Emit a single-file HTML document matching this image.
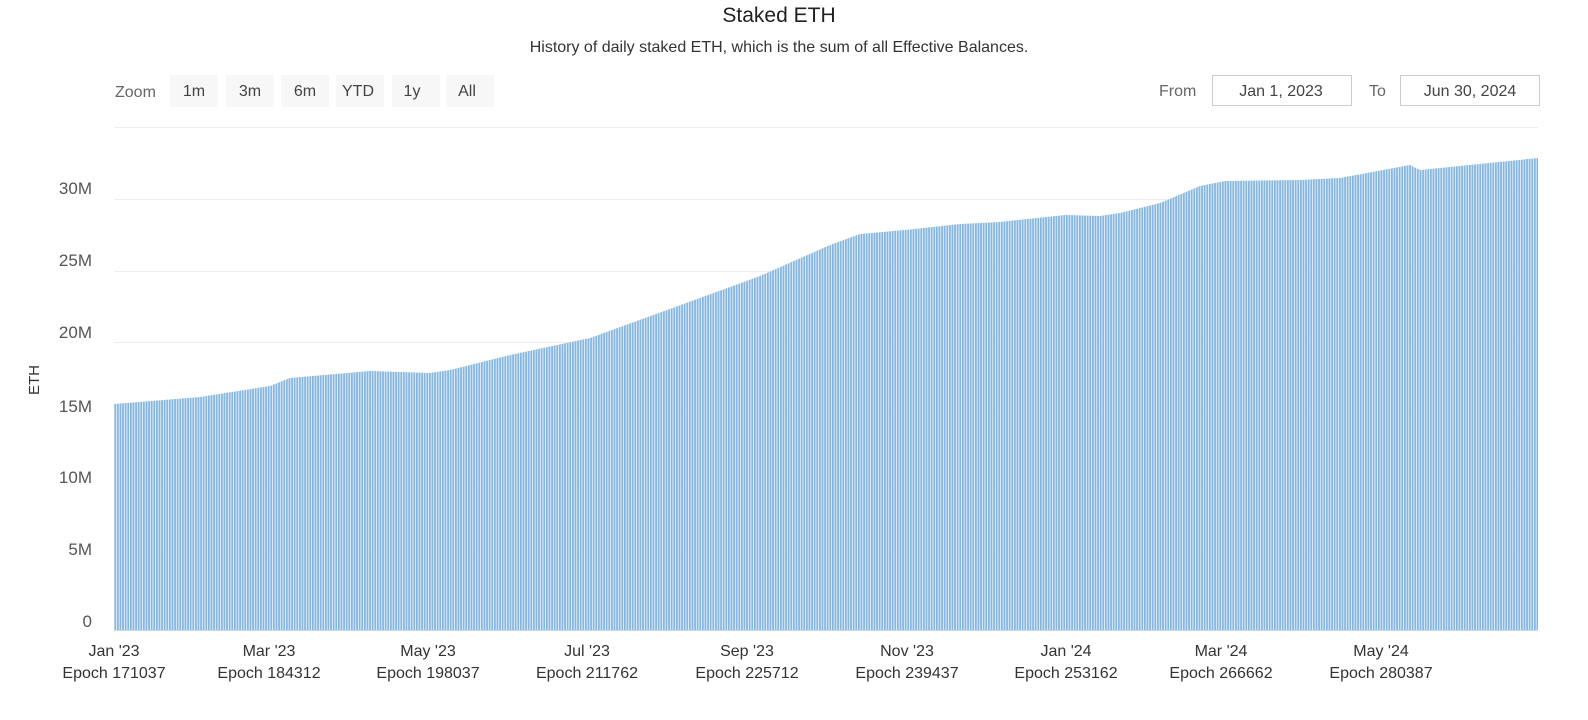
<!DOCTYPE html>
<html><head><meta charset="utf-8"><style>
body{margin:0;background:#fff;width:1588px;height:715px;overflow:hidden;font-family:"Liberation Sans",sans-serif;}
</style></head><body>
<svg width="1588" height="715" xmlns="http://www.w3.org/2000/svg" font-family="Liberation Sans, sans-serif">
<defs>
<pattern id="bars" patternUnits="userSpaceOnUse" width="2.6" height="10">
<rect x="0" y="0" width="1.8" height="10" fill="#86b7e0"/>
<rect x="1.8" y="0" width="0.8" height="10" fill="#e6f0f9"/>
</pattern>
</defs>
<text x="779" y="22" text-anchor="middle" font-size="21" fill="#222">Staked ETH</text>
<text x="779" y="52" text-anchor="middle" font-size="16" fill="#333">History of daily staked ETH, which is the sum of all Effective Balances.</text>
<text x="115" y="97" font-size="16" fill="#666">Zoom</text>
<g font-size="16" fill="#444" text-anchor="middle">
<rect x="170" y="75" width="48" height="32" fill="#f7f7f7"/><text x="194" y="96">1m</text>
<rect x="226" y="75" width="48" height="32" fill="#f7f7f7"/><text x="250" y="96">3m</text>
<rect x="281" y="75" width="48" height="32" fill="#f7f7f7"/><text x="305" y="96">6m</text>
<rect x="336" y="75" width="48" height="32" fill="#f7f7f7"/><text x="358" y="96">YTD</text>
<rect x="392" y="75" width="48" height="32" fill="#f7f7f7"/><text x="412" y="96">1y</text>
<rect x="446" y="75" width="48" height="32" fill="#f7f7f7"/><text x="467" y="96">All</text>
</g>
<text x="1159" y="96" font-size="16" fill="#666">From</text>
<rect x="1212.5" y="75.5" width="139" height="30" fill="#fff" stroke="#ccc"/>
<text x="1281" y="96" font-size="16" fill="#444" text-anchor="middle">Jan 1, 2023</text>
<text x="1369" y="96" font-size="16" fill="#666">To</text>
<rect x="1400.5" y="75.5" width="139" height="30" fill="#fff" stroke="#ccc"/>
<text x="1470" y="96" font-size="16" fill="#444" text-anchor="middle">Jun 30, 2024</text>
<g stroke="#ececec" stroke-width="1">
<line x1="114" x2="1538" y1="127.5" y2="127.5"/>
<line x1="114" x2="1538" y1="199.5" y2="199.5"/>
<line x1="114" x2="1538" y1="271.5" y2="271.5"/>
<line x1="114" x2="1538" y1="342.5" y2="342.5"/>
<line x1="114" x2="1538" y1="414.5" y2="414.5"/>
<line x1="114" x2="1538" y1="486.5" y2="486.5"/>
<line x1="114" x2="1538" y1="557.5" y2="557.5"/>
</g>
<polygon fill="url(#bars)" points="114,630 114,404 200,397 270,386 290,378 370,371 430,373 450,370 510,355 590,338 700,298 760,276 830,245 860,234 905,230 960,224 1000,222 1065,215 1100,216 1120,213 1160,203 1200,186 1225,181 1300,180 1340,178 1410,165 1420,170 1440,168 1538,158 1538,630"/>
<line x1="114" x2="1538" y1="630.5" y2="630.5" stroke="#ccd6eb"/>
<g font-size="17" fill="#555" text-anchor="end">
<text x="92" y="194">30M</text>
<text x="92" y="266">25M</text>
<text x="92" y="338">20M</text>
<text x="92" y="412">15M</text>
<text x="92" y="483">10M</text>
<text x="92" y="555">5M</text>
<text x="92" y="627">0</text>
</g>
<text transform="translate(39,380) rotate(-90)" font-size="15" fill="#333" text-anchor="middle">ETH</text>
<g font-size="16" fill="#333" text-anchor="middle">
<text x="114" y="656">Jan '23</text><text x="114" y="678">Epoch 171037</text>
<text x="269" y="656">Mar '23</text><text x="269" y="678">Epoch 184312</text>
<text x="428" y="656">May '23</text><text x="428" y="678">Epoch 198037</text>
<text x="587" y="656">Jul '23</text><text x="587" y="678">Epoch 211762</text>
<text x="747" y="656">Sep '23</text><text x="747" y="678">Epoch 225712</text>
<text x="907" y="656">Nov '23</text><text x="907" y="678">Epoch 239437</text>
<text x="1066" y="656">Jan '24</text><text x="1066" y="678">Epoch 253162</text>
<text x="1221" y="656">Mar '24</text><text x="1221" y="678">Epoch 266662</text>
<text x="1381" y="656">May '24</text><text x="1381" y="678">Epoch 280387</text>
</g>
</svg>
</body></html>
